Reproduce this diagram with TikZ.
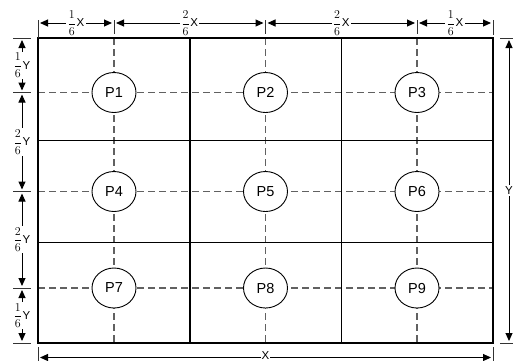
\documentclass[tikz,border=0pt]{standalone}
\usepackage{fontspec}
\setmainfont{Liberation Sans}
\usetikzlibrary{arrows.meta,shapes.geometric}
\newcommand{\fr}[2]{$\displaystyle\frac{#1}{#2}$\kern0.5pt}
\begin{document}
\begin{tikzpicture}[x=1pt,y=-1pt,
  frame/.style={line width=2.2pt},
  gridline/.style={line width=1.3pt},
  centerline/.style={line width=1.6pt, draw=black!62, dash pattern=on 7pt off 4pt},
  pnode/.style={ellipse, draw, fill=white, line width=0.9pt, minimum width=44pt, minimum height=40pt, inner sep=0pt, font=\fontsize{14.5}{16}\selectfont},
  dim/.style={line width=1pt, {Triangle[length=8pt,width=7pt]}-{Triangle[length=8pt,width=7pt]}, shorten <=2pt, shorten >=2pt},
  dimlabel/.style={fill=white, inner sep=1.5pt, font=\fontsize{11.5}{13}\selectfont},
  tickline/.style={line width=1pt, draw=black!80}]
\useasboundingbox (0,0) rectangle (513,360);
% dashed center lines
\foreach \x in {114,265.5,417}{
  \draw[centerline] (\x,38) -- (\x,343);
  \draw[tickline] (\x,20) -- (\x,34);
}
\foreach \y in {92.5,191.5,288}{
  \draw[centerline] (38,\y) -- (493,\y);
}
% inner grid
\draw[gridline] (190,38) -- (190,343);
\draw[gridline] (341.5,38) -- (341.5,343);
\draw[gridline] (38,140.5) -- (493,140.5);
\draw[gridline] (38,242.5) -- (493,242.5);
% frame
\coordinate (TL) at (38,38);
\coordinate (BR) at (493,343);
\draw[frame] (TL) rectangle (BR);
% points
\node[pnode] (P1) at (114,92.5) {P1};
\node[pnode] (P2) at (265.5,92.5) {P2};
\node[pnode] (P3) at (417,92.5) {P3};
\node[pnode] (P4) at (114,191.5) {P4};
\node[pnode] (P5) at (265.5,191.5) {P5};
\node[pnode] (P6) at (417,191.5) {P6};
\node[pnode] (P7) at (114,288) {P7};
\node[pnode] (P8) at (265.5,288) {P8};
\node[pnode] (P9) at (417,288) {P9};
% top dimension
\draw[tickline] (38,20) -- (38,38);
\draw[tickline] (493,20) -- (493,35);
\coordinate (t0) at (38,23);
\coordinate (t1) at (114,23);
\coordinate (t2) at (265.5,23);
\coordinate (t3) at (417,23);
\coordinate (t4) at (493,23);
\draw[dim] (t0) -- node[dimlabel]{\fr16X} (t1);
\draw[dim] (t1) -- node[dimlabel]{\fr26X} (t2);
\draw[dim] (t2) -- node[dimlabel]{\fr26X} (t3);
\draw[dim] (t3) -- node[dimlabel]{\fr16X} (t4);
% left dimension
\foreach \y in {38,92.5,191.5,288,343}{
  \draw[tickline] (13,\y) -- (31,\y);
}
\coordinate (l0) at (22,38);
\coordinate (l1) at (22,92.5);
\coordinate (l2) at (22,191.5);
\coordinate (l3) at (22,288);
\coordinate (l4) at (22,343);
\draw[dim] (l0) -- node[dimlabel]{\fr16Y} (l1);
\draw[dim] (l1) -- node[dimlabel]{\fr26Y} (l2);
\draw[dim] (l2) -- node[dimlabel]{\fr26Y} (l3);
\draw[dim] (l3) -- node[dimlabel]{\fr16Y} (l4);
% right dimension
\draw[tickline] (500,38) -- (514,38);
\draw[tickline] (500,343) -- (514,343);
\coordinate (r0) at (509,38);
\coordinate (r1) at (509,343);
\draw[dim] (r0) -- node[dimlabel]{Y} (r1);
% bottom dimension
\draw[tickline] (38,347) -- (38,362);
\draw[tickline] (493,347) -- (493,362);
\coordinate (b0) at (38,357.5);
\coordinate (b1) at (493,357.5);
\draw[dim] (b0) -- (b1);
\node[dimlabel, inner sep=0.5pt, anchor=base] (xlab) at (265.5,359) {X};
\end{tikzpicture}
\end{document}
